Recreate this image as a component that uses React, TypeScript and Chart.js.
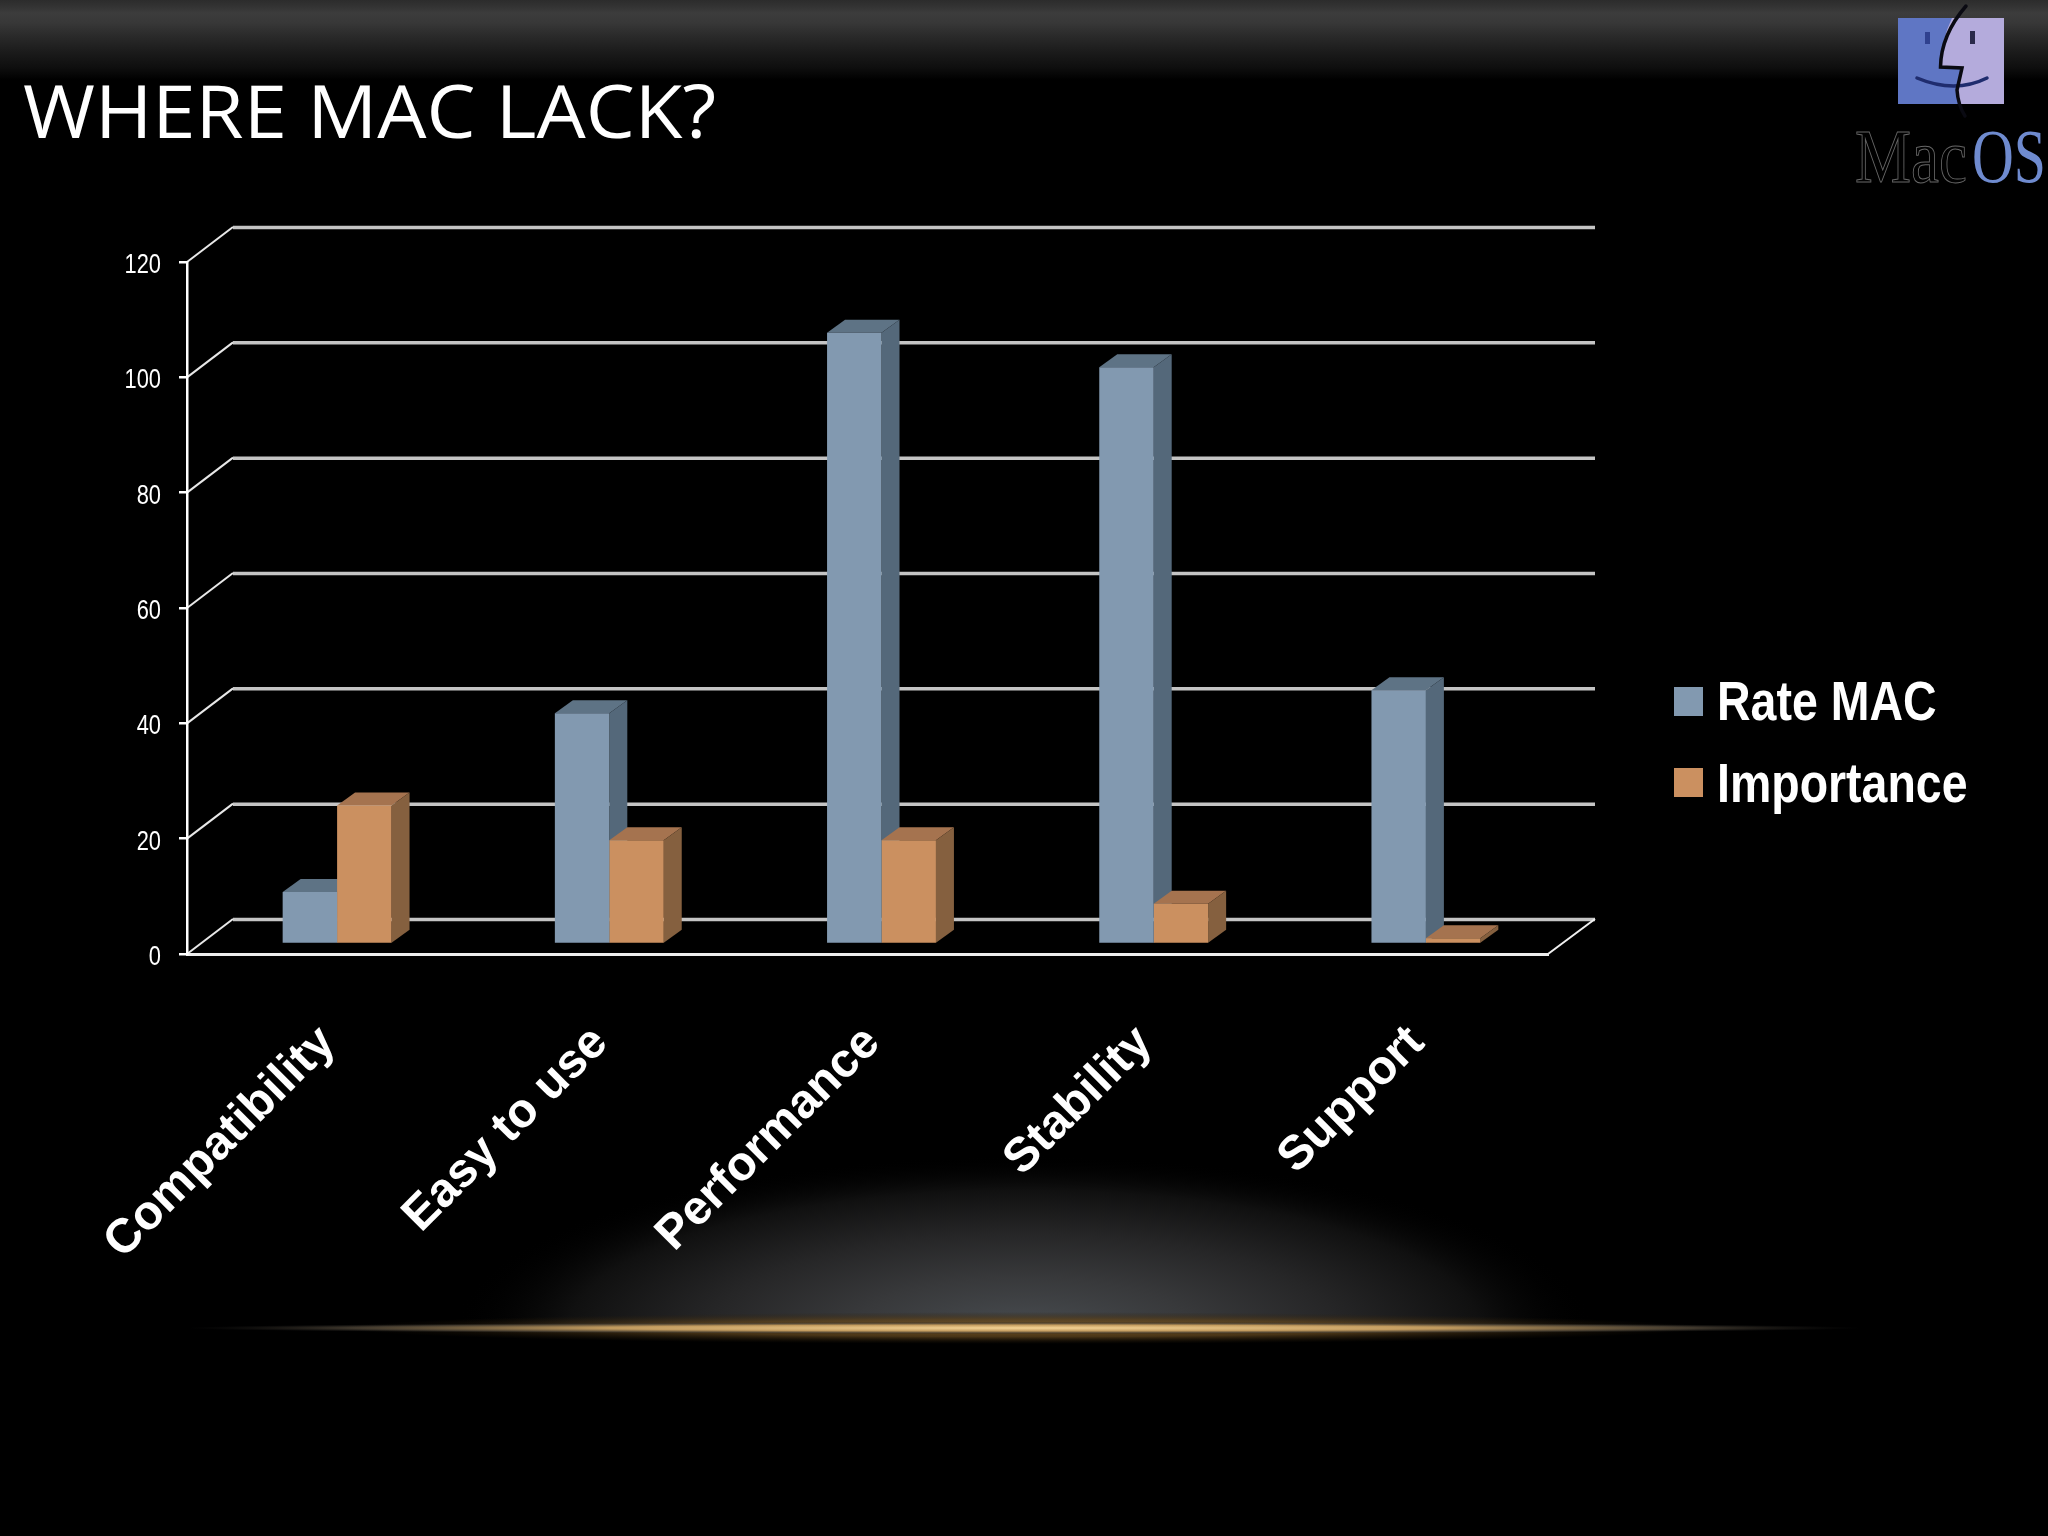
import React, { useEffect, useRef } from "react";
import { Chart, registerables } from "chart.js";

Chart.register(...registerables);

const categories = ["Compatibility", "Easy to use", "Performance", "Stability", "Support"];
const rateMac = [9, 40, 106, 100, 44];
const importance = [24, 18, 18, 7, 1];
const seriesNames = ["Rate MAC", "Importance"];
const yTickMax = 120;
const yTickStep = 20;
const titleText = "WHERE MAC LACK?";

const frontColors = ["#8299b0", "#cb9060"];
const topColors = ["#5e7385", "#a5734f"];
const sideColors = ["#54687a", "#85603f"];

const WALL_DX = 46;
const WALL_DY = 35;
const BAR_DX = 18;
const BAR_DY = 13;
const BAR_SHIFT_X = 14;
const BAR_SHIFT_Y = 10;

function drawBackdrop(ctx: CanvasRenderingContext2D, w: number, h: number) {
  ctx.fillStyle = "#000";
  ctx.fillRect(0, 0, w, h);
  const band = ctx.createLinearGradient(0, 0, 0, 80);
  band.addColorStop(0, "#2c2c2c");
  band.addColorStop(0.08, "#333333");
  band.addColorStop(0.16, "#3c3c3c");
  band.addColorStop(0.28, "#383838");
  band.addColorStop(0.45, "#2a2a2a");
  band.addColorStop(0.65, "#1b1b1b");
  band.addColorStop(0.85, "#0e0e0e");
  band.addColorStop(1, "#000000");
  ctx.fillStyle = band;
  ctx.fillRect(0, 0, w, 80);

  // soft glow above the horizon
  ctx.save();
  ctx.beginPath();
  ctx.rect(0, 1100, w, 224);
  ctx.clip();
  ctx.translate(1024, 1330);
  ctx.scale(1, 175 / 570);
  const glow = ctx.createRadialGradient(0, 0, 0, 0, 0, 570);
  glow.addColorStop(0, "rgba(72,76,80,1)");
  glow.addColorStop(0.3, "rgba(56,57,59,1)");
  glow.addColorStop(0.55, "rgba(38,38,39,1)");
  glow.addColorStop(0.8, "rgba(16,16,16,1)");
  glow.addColorStop(1, "rgba(0,0,0,0)");
  ctx.fillStyle = glow;
  ctx.beginPath();
  ctx.arc(0, 0, 570, 0, Math.PI * 2);
  ctx.fill();
  ctx.restore();

  const ellipse = (rx: number, ry: number, stops: [number, string][]) => {
    ctx.save();
    ctx.translate(1024, 1328);
    ctx.scale(1, ry / rx);
    const g = ctx.createRadialGradient(0, 0, 0, 0, 0, rx);
    stops.forEach(([p, c]) => g.addColorStop(p, c));
    ctx.fillStyle = g;
    ctx.beginPath();
    ctx.arc(0, 0, rx, 0, Math.PI * 2);
    ctx.fill();
    ctx.restore();
  };
  ellipse(680, 16, [
    [0, "rgba(125,90,38,1)"],
    [0.55, "rgba(90,65,28,0.8)"],
    [1, "rgba(40,28,10,0)"],
  ]);
  ellipse(840, 6, [
    [0, "rgba(245,212,150,1)"],
    [0.5, "rgba(200,160,98,0.95)"],
    [0.8, "rgba(85,75,60,0.75)"],
    [1, "rgba(30,30,30,0)"],
  ]);
}

function drawLogo(ctx: CanvasRenderingContext2D) {
  ctx.save();
  ctx.fillStyle = "#5f76c4";
  ctx.fillRect(1898, 18, 106, 86);
  ctx.fillStyle = "#b4abdc";
  ctx.beginPath();
  ctx.moveTo(1952, 18);
  ctx.lineTo(2004, 18);
  ctx.lineTo(2004, 104);
  ctx.lineTo(1961, 104);
  ctx.lineTo(1956.5, 90);
  ctx.lineTo(1962, 67);
  ctx.lineTo(1941, 67);
  ctx.quadraticCurveTo(1941, 40, 1952, 18);
  ctx.closePath();
  ctx.fill();

  ctx.fillStyle = "#2f418f";
  ctx.fillRect(1925, 32, 5, 12);
  ctx.fillStyle = "#2a2a4a";
  ctx.fillRect(1970, 31, 5, 13);

  ctx.lineCap = "round";
  ctx.strokeStyle = "#1f2c6e";
  ctx.lineWidth = 3.5;
  ctx.beginPath();
  ctx.moveTo(1917, 78);
  ctx.quadraticCurveTo(1955, 94, 1987, 78);
  ctx.stroke();

  ctx.strokeStyle = "#0a0a12";
  ctx.lineWidth = 3.5;
  ctx.beginPath();
  ctx.moveTo(1966, 6);
  ctx.quadraticCurveTo(1941, 35, 1940.5, 67);
  ctx.lineTo(1962, 68);
  ctx.lineTo(1957, 90);
  ctx.quadraticCurveTo(1958, 105, 1965, 116);
  ctx.stroke();

  // wordmark
  ctx.textBaseline = "alphabetic";
  ctx.textAlign = "left";
  ctx.font = '76px "Liberation Serif"';
  ctx.save();
  ctx.translate(1855, 182);
  ctx.scale(112 / ctx.measureText("Mac").width, 1);
  ctx.strokeStyle = "#666666";
  ctx.lineWidth = 1;
  ctx.strokeText("Mac", 0, 0);
  ctx.restore();
  ctx.save();
  ctx.translate(1972, 182);
  ctx.scale(74 / ctx.measureText("OS").width, 1);
  ctx.fillStyle = "#6f8bcf";
  ctx.fillText("OS", 0, 0);
  ctx.restore();
  ctx.restore();
}

function drawTitle(ctx: CanvasRenderingContext2D) {
  ctx.save();
  ctx.font = '74px "Open Sans"';
  ctx.textAlign = "left";
  ctx.textBaseline = "alphabetic";
  ctx.fillStyle = "#ffffff";
  ctx.translate(23, 138);
  ctx.scale(693 / ctx.measureText(titleText).width, 1);
  ctx.fillText(titleText, 0, 0);
  ctx.restore();
}

const stagePlugin = {
  id: "stage",
  beforeDraw(chart: any) {
    const { ctx, width, height } = chart;
    drawBackdrop(ctx, width, height);
    drawLogo(ctx);
    drawTitle(ctx);

    const y = chart.scales.y;
    const { left, right } = chart.chartArea;
    ctx.save();
    y.ticks.forEach((t: any) => {
      const py = y.getPixelForValue(t.value);
      ctx.strokeStyle = "#c4c4c4";
      ctx.lineWidth = 3.5;
      ctx.beginPath();
      ctx.moveTo(left + WALL_DX, py - WALL_DY + 0.5);
      ctx.lineTo(right + WALL_DX + 1, py - WALL_DY + 0.5);
      ctx.stroke();
      ctx.strokeStyle = "#e8e8e8";
      ctx.lineWidth = 2;
      ctx.beginPath();
      ctx.moveTo(left, py);
      ctx.lineTo(left + WALL_DX, py - WALL_DY);
      ctx.stroke();

      // value labels, condensed like the reference
      ctx.save();
      ctx.font = '28px "Liberation Sans"';
      ctx.fillStyle = "#ffffff";
      ctx.textAlign = "right";
      ctx.textBaseline = "alphabetic";
      ctx.translate(161, py + 11);
      ctx.scale(0.78, 1);
      ctx.fillText(String(t.label), 0, 0);
      ctx.restore();
    });
    const zero = y.getPixelForValue(0);
    ctx.strokeStyle = "#f0f0f0";
    ctx.lineWidth = 2;
    ctx.beginPath();
    ctx.moveTo(right, zero);
    ctx.lineTo(right + WALL_DX + 1, zero - WALL_DY);
    ctx.stroke();
    ctx.restore();
  },
  beforeDatasetsDraw(chart: any) {
    const ctx = chart.ctx;
    ctx.save();
    ctx.translate(BAR_SHIFT_X, -BAR_SHIFT_Y);
    [0, 1].forEach((index) => {
      chart.getDatasetMeta(index).data.forEach((bar: any) => {
        const { x, y, base, width } = bar.getProps(["x", "y", "base", "width"]);
        const l = x - width / 2;
        const r = x + width / 2;
        ctx.fillStyle = topColors[index];
        ctx.beginPath();
        ctx.moveTo(l, y);
        ctx.lineTo(l + BAR_DX, y - BAR_DY);
        ctx.lineTo(r + BAR_DX, y - BAR_DY);
        ctx.lineTo(r, y);
        ctx.closePath();
        ctx.fill();
        ctx.fillStyle = sideColors[index];
        ctx.beginPath();
        ctx.moveTo(r, y);
        ctx.lineTo(r + BAR_DX, y - BAR_DY);
        ctx.lineTo(r + BAR_DX, base - BAR_DY);
        ctx.lineTo(r, base);
        ctx.closePath();
        ctx.fill();
      });
    });
  },
  afterDatasetsDraw(chart: any) {
    const ctx = chart.ctx;
    ctx.restore();
    // legend
    ctx.save();
    const rows = [
      { box: 687, base: 720 },
      { box: 768, base: 802 },
    ];
    chart.data.datasets.forEach((ds: any, i: number) => {
      ctx.fillStyle = ds.backgroundColor;
      ctx.fillRect(1674, rows[i].box, 29, 29);
      ctx.fillStyle = "#ffffff";
      ctx.font = 'bold 56px "Liberation Sans"';
      ctx.textAlign = "left";
      ctx.textBaseline = "alphabetic";
      ctx.save();
      ctx.translate(1717, rows[i].base);
      ctx.scale(0.83, 1);
      ctx.fillText(ds.label, 0, 0);
      ctx.restore();
    });
    ctx.restore();
  },
};

export default function App() {
  const ref = useRef<HTMLCanvasElement | null>(null);
  useEffect(() => {
    document.body.style.margin = "0";
    document.body.style.background = "#000";
    const chart = new Chart(ref.current as HTMLCanvasElement, {
      type: "bar",
      data: {
        labels: categories,
        datasets: [
          { label: seriesNames[0], data: rateMac, backgroundColor: frontColors[0], clip: false },
          { label: seriesNames[1], data: importance, backgroundColor: frontColors[1], clip: false },
        ],
      } as any,
      options: {
        responsive: false,
        animation: false,
        devicePixelRatio: 1,
        layout: { padding: { left: 0, top: 262, right: 500, bottom: 0 } },
        categoryPercentage: 0.4,
        barPercentage: 1,
        plugins: { legend: { display: false }, tooltip: { enabled: false } },
        scales: {
          x: {
            afterFit: (s: any) => { s.height = 582; },
            grid: { display: false },
            border: { display: true, color: "#eeeeee", width: 3 },
            ticks: {
              autoSkip: false,
              minRotation: 45,
              maxRotation: 45,
              color: "#ffffff",
              padding: 53,
              labelOffset: 5,
              font: { family: '"Liberation Sans"', size: 48, weight: "bold" },
            },
          },
          y: {
            min: 0,
            max: yTickMax,
            afterFit: (s: any) => { s.width = 187; },
            grid: { drawOnChartArea: false, drawTicks: true, tickLength: 8, color: "#ffffff", lineWidth: 2.5 },
            border: { display: true, color: "#ffffff", width: 2.5 },
            ticks: {
              display: false,
              stepSize: yTickStep,
            },
          },
        },
      } as any,
      plugins: [stagePlugin],
    });
    return () => chart.destroy();
  }, []);
  return <canvas ref={ref} width={2048} height={1536} style={{ display: "block", width: 2048, height: 1536 }} />;
}
